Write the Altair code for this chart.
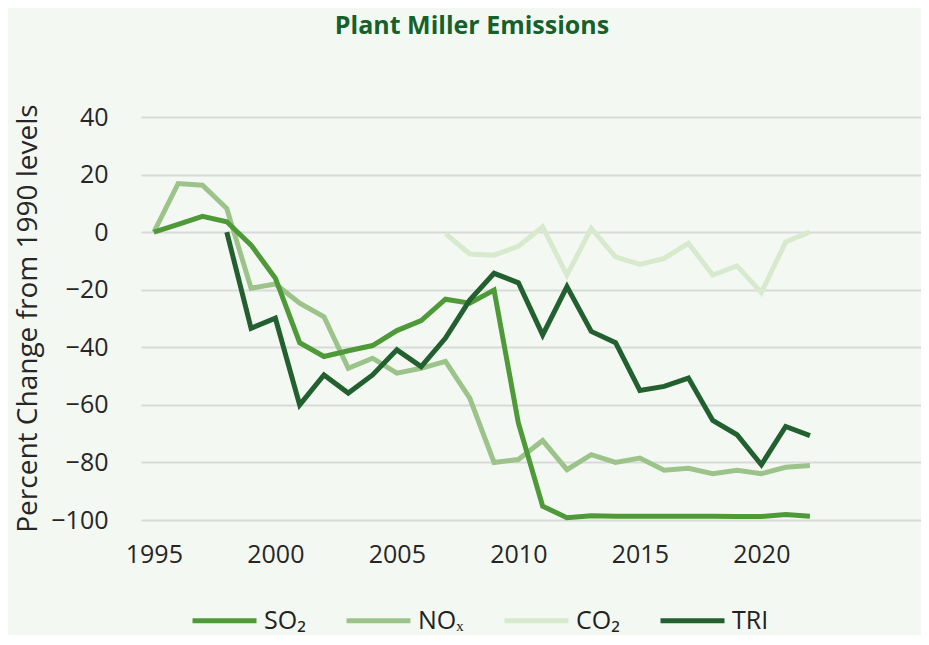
import altair as alt
import pandas as pd

years = list(range(1995, 2023))
so2 = [0, 2.7, 5.5, 3.6, -4.5, -16, -38.4, -43.2, -41.2, -39.4, -34.2, -30.7, -23.3, -24.7,
       -20.1, -66.3, -95.2, -99.2, -98.5, -98.7, -98.7, -98.7, -98.7, -98.7, -98.8, -98.8, -98.1, -98.7]
nox = [0, 16.9, 16.3, 8.2, -19.5, -18, -24.7, -29.4, -47.3, -43.8, -49, -47.3, -44.9, -57.7,
       -80, -79, -72.4, -82.5, -77.3, -80, -78.5, -82.7, -82, -83.9, -82.7, -83.9, -81.7, -81.1]
co2_years = list(range(2007, 2023))
co2 = [-0.5, -7.6, -8, -4.9, 1.8, -14.9, 1.3, -8.6, -11.2, -9.1, -3.9, -14.9, -11.7, -21, -3.4, 0.1]
tri_years = list(range(1998, 2023))
tri = [0, -33.4, -29.9, -60, -49.6, -55.9, -49.6, -40.9, -46.7, -36.8, -23.6, -14.3, -17.6, -35.7,
       -18.9, -34.5, -38.4, -55, -53.6, -50.7, -65.4, -70.4, -80.8, -67.5, -70.7]

series_labels = ["SO₂", "NOₓ", "CO₂", "TRI"]
series_colors = ["#4f9a38", "#9cc48a", "#d8eacd", "#22612f"]
x_ticks = [1995, 2000, 2005, 2010, 2015, 2020]
y_ticks = [-100, -80, -60, -40, -20, 0, 20, 40]

rows = []
# draw order: NOx, CO2, SO2, TRI (TRI on top)
for yr, v in zip(years, nox):
    rows.append({"year": yr, "value": v, "series": "NOₓ"})
for yr, v in zip(co2_years, co2):
    rows.append({"year": yr, "value": v, "series": "CO₂"})
for yr, v in zip(years, so2):
    rows.append({"year": yr, "value": v, "series": "SO₂"})
for yr, v in zip(tri_years, tri):
    rows.append({"year": yr, "value": v, "series": "TRI"})
df = pd.DataFrame(rows)

FONT = "Open Sans"

chart = alt.Chart(df).mark_line(strokeWidth=5).encode(
    x=alt.X("year:Q",
            scale=alt.Scale(domain=[1994.47, 2026.57], nice=False, zero=False),
            axis=alt.Axis(values=x_ticks, format="d", grid=False, ticks=False, domain=False,
                          labelPadding=22, labelFontSize=25, labelFont=FONT,
                          labelColor="#262626", title=None)),
    y=alt.Y("value:Q",
            scale=alt.Scale(domain=[-100, 40], nice=False),
            axis=alt.Axis(values=y_ticks, ticks=False, domain=False, labelPadding=33,
                          labelFontSize=25, labelFont=FONT, labelColor="#262626",
                          gridColor="#d9d9d9", gridWidth=2,
                          title="Percent Change from 1990 levels", titleFontSize=28,
                          titleFont=FONT, titleFontWeight="normal", titleColor="#262626",
                          titleAngle=-90, titleX=-113, titleY=201, titleBaseline="middle",
                          titleAlign="center")),
    color=alt.Color("series:N",
                    scale=alt.Scale(domain=series_labels, range=series_colors),
                    legend=alt.Legend(orient="none", legendX=49, legendY=469,
                                      direction="horizontal", columns=4, title=None,
                                      symbolType="stroke", symbolSize=4096,
                                      symbolStrokeWidth=5, labelFontSize=25,
                                      labelFont=FONT, labelOffset=5, columnPadding=30,
                                      labelColor="#222222")),
).properties(
    width=780,
    height=403,
    padding={"left": 133, "top": 109, "right": 0, "bottom": 115},
    autosize=alt.AutoSizeParams(type="none"),
    background="#f4f8f3",
    title=alt.TitleParams("Plant Miller Emissions", frame="group", anchor="middle",
                          dx=-59, offset=65, fontSize=25, font=FONT,
                          fontWeight="bold", color="#14612a"),
).configure_view(stroke=None)

chart.save("out.html", embed_options={"renderer": "svg", "actions": False})
